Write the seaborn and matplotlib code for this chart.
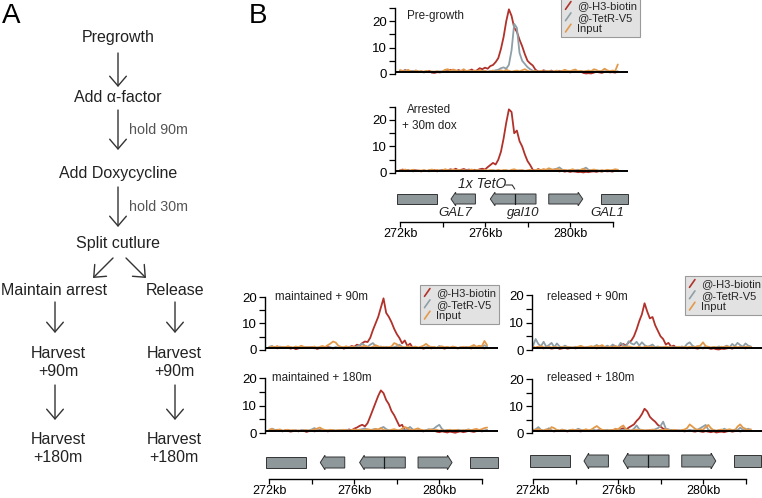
import numpy as np
import pandas as pd
import seaborn as sns
import matplotlib.pyplot as plt
from matplotlib.lines import Line2D
from matplotlib.patches import Polygon
from matplotlib.legend_handler import HandlerBase

# ---- data ----
kb_start = 272.0   # first sample position (kb)
kb_step = 0.125    # sample spacing (kb)
series_names = ["@-H3-biotin", "@-TetR-V5", "Input"]

pg_h3 = [1.2, 1.0, 1.5, 0.8, 1.1, 0.9, 1.3, 0.7,
         1.0, 0.6, 0.9, 1.2, 0.5, 0.4, 0.7, 0.6,
         0.8, 1.4, 1.0, 1.6, 1.2, 0.9, 1.5, 1.1,
         1.3, 0.9, 1.2, 1.7, 1.0, 1.4, 2.2, 1.8,
         2.4, 2.0, 3.0, 3.4, 4.5, 6.0, 9.5, 14.0,
         20.0, 24.5, 22.0, 17.5, 16.0, 13.0, 10.5, 7.5,
         5.0, 4.0, 3.2, 1.6, 1.0, 0.8, 1.4, 1.1,
         0.9, 1.3, 0.7, 1.0, 1.2, 0.8, 0.9, 1.1,
         0.6, 0.8, 1.0, 0.7, 0.9, 0.4, 0.2, 0.3,
         0.2, 0.5, 0.9, 0.6, 0.4, 0.8, 1.0, 0.6,
         0.7, 0.5, 0.9]
pg_tetr = [0.9, 1.1, 1.4, 1.0, 0.8, 1.2, 0.9, 1.0,
           0.7, 0.9, 1.0, 0.8, 0.6, 0.9, 0.8, 1.0,
           0.9, 1.1, 0.8, 1.0, 1.2, 0.9, 1.0, 1.1,
           0.8, 1.0, 0.9, 1.1, 0.8, 1.0, 0.9, 1.2,
           1.0, 0.9, 1.1, 1.0, 1.4, 1.6, 2.2, 2.5,
           2.0, 3.5, 9.0, 19.0, 17.5, 8.0, 5.0, 3.8,
           2.6, 1.8, 1.2, 1.0, 0.9, 1.0, 0.8, 1.1,
           0.9, 1.0, 0.8, 1.1, 0.9, 1.0, 0.8, 0.9,
           1.0, 0.9, 1.1, 0.8, 1.0, 0.9, 0.8, 1.0,
           0.9, 1.0, 0.8, 1.1, 0.9, 1.0, 0.8, 0.9,
           1.0, 0.9, 1.0]
pg_input = [1.5, 1.2, 0.9, 1.6, 1.0, 0.7, 1.3, 0.9,
            1.1, 0.8, 1.2, 0.9, 1.0, 0.8, 1.1, 0.7,
            1.0, 1.6, 1.8, 1.2, 1.7, 1.4, 0.9, 1.2,
            1.8, 1.0, 1.4, 0.8, 1.3, 1.0, 1.5, 0.9,
            1.2, 0.8, 1.0, 1.3, 0.9, 1.1, 1.4, 1.0,
            1.6, 1.2, 0.9, 1.1, 1.3, 1.0, 1.4, 1.8,
            1.2, 0.9, 1.0, 1.1, 0.8, 1.2, 0.9, 1.0,
            1.1, 0.8, 1.0, 1.3, 0.9, 1.1, 1.6, 1.2,
            1.0, 1.4, 1.7, 1.0, 1.2, 0.9, 1.1, 1.3,
            1.0, 1.8, 1.5, 0.9, 1.2, 2.0, 1.4, 1.0,
            1.3, 1.1, 3.6]

ar_h3 = [1.0, 1.3, 0.9, 1.1, 0.7, 1.2, 1.0, 0.8,
         0.6, 0.9, 0.7, 1.0, 0.8, 1.1, 0.6, 0.9,
         1.2, 0.8, 1.0, 1.4, 1.1, 1.6, 1.0, 1.2,
         1.5, 1.1, 1.3, 0.9, 1.2, 1.0, 1.4, 1.6,
         1.3, 2.2, 3.0, 3.8, 3.2, 5.0, 8.0, 13.0,
         19.0, 24.0, 23.0, 15.0, 16.0, 12.0, 10.0, 7.0,
         4.5, 3.0, 1.2, 0.8, 1.5, 1.0, 0.9, 1.2,
         0.8, 1.0, 0.7, 0.9, 0.6, 0.8, 0.5, 0.7,
         0.4, 0.6, 0.5, 0.3, 0.4, 0.2, 0.4, 0.3,
         0.5, 0.6, 0.4, 0.7, 0.5, 0.8, 0.6, 0.7,
         0.5, 0.9, 1.0]
ar_tetr = [0.8, 0.9, 0.7, 1.0, 0.8, 0.6, 0.9, 0.8,
           0.7, 0.9, 0.8, 0.6, 0.9, 0.7, 0.8, 1.0,
           0.9, 0.7, 0.8, 1.0, 0.9, 0.8, 1.1, 0.9,
           0.8, 1.0, 0.9, 0.7, 0.8, 0.9, 1.0, 0.8,
           0.9, 0.7, 0.8, 1.0, 0.9, 0.8, 0.7, 0.9,
           1.0, 0.8, 0.9, 0.7, 0.8, 1.0, 0.9, 0.8,
           0.7, 0.9, 0.8, 1.0, 0.9, 0.8, 1.1, 0.9,
           1.2, 1.0, 1.4, 1.6, 2.1, 1.3, 1.0, 0.9,
           1.1, 0.8, 1.0, 1.2, 0.9, 1.5, 2.0, 1.2,
           0.9, 0.8, 1.0, 0.9, 0.7, 0.8, 1.0, 0.9,
           0.8, 0.9, 1.0]
ar_input = [1.1, 0.9, 1.3, 0.8, 1.0, 1.2, 0.7, 1.0,
            0.9, 1.1, 0.8, 1.0, 1.3, 0.9, 1.2, 0.8,
            1.0, 1.4, 1.1, 0.9, 1.3, 1.0, 1.2, 0.9,
            1.1, 0.8, 1.0, 1.3, 0.9, 1.1, 1.0, 0.8,
            1.2, 0.9, 1.1, 1.0, 0.8, 1.2, 0.9, 1.1,
            1.0, 0.8, 1.2, 1.4, 1.0, 0.9, 1.1, 0.8,
            1.0, 1.2, 0.9, 1.1, 1.3, 1.0, 1.5, 1.2,
            1.8, 1.4, 1.1, 1.6, 1.3, 1.0, 1.2, 0.9,
            1.1, 1.4, 1.0, 0.8, 1.2, 1.6, 1.0, 0.9,
            1.1, 1.3, 1.0, 0.8, 1.1, 0.9, 1.2, 1.0,
            1.1, 1.4, 1.2]

m90_h3 = [1.0, 0.8, 1.2, 0.6, 0.9, 1.1, 0.7, 1.0,
          0.5, 0.8, 0.3, 0.6, 0.9, 0.7, 1.0, 0.8,
          1.1, 0.9, 0.4, 0.7, 1.0, 0.8, 1.2, 0.9,
          0.6, 0.9, 0.7, 1.1, 0.5, 0.8, 1.0, 1.5,
          1.2, 2.0, 1.6, 2.6, 3.2, 3.0, 4.6, 7.5,
          10.0, 12.5, 16.0, 19.5, 14.0, 12.5, 10.5, 8.0,
          6.0, 4.5, 2.5, 3.6, 1.5, 2.4, 0.8, 1.2,
          0.7, 0.9, 0.5, 0.8, 1.0, 0.6, 0.9, 0.7,
          1.1, 0.8, 0.5, 0.9, 0.7, 1.0, 0.8, 0.6,
          0.9, 0.7, 1.0, 0.8, 0.6, 0.9, 0.7, 1.0,
          0.8, 0.6, 0.9]
m90_tetr = [1.2, 1.5, 1.0, 0.8, 1.3, 0.9, 1.1, 0.7,
            1.0, 0.8, 1.2, 0.9, 0.7, 1.0, 0.8, 1.1,
            0.9, 0.6, 1.0, 0.8, 1.1, 0.7, 0.9, 1.0,
            0.8, 1.1, 0.9, 0.7, 1.0, 0.8, 1.2, 0.9,
            1.0, 1.4, 1.8, 2.4, 1.6, 1.2, 2.0, 2.6,
            1.5, 1.0, 1.3, 0.9, 1.2, 1.0, 0.8, 1.1,
            1.4, 2.0, 1.2, 0.9, 1.1, 0.8, 1.0, 0.9,
            0.7, 1.0, 0.8, 1.1, 0.9, 1.2, 1.0, 0.8,
            1.5, 1.0, 0.9, 1.1, 0.8, 1.0, 0.9, 0.7,
            1.0, 0.8, 1.1, 0.9, 1.3, 1.0, 0.8, 1.2,
            1.0, 1.8, 1.2]
m90_input = [0.9, 1.3, 1.0, 1.5, 0.8, 1.2, 1.0, 1.4,
             1.1, 0.9, 1.3, 1.0, 1.6, 1.2, 0.9, 1.1,
             1.0, 1.3, 0.8, 1.2, 1.5, 1.1, 1.8, 2.4,
             3.2, 2.8, 1.6, 1.2, 1.0, 1.4, 0.9, 1.2,
             1.1, 0.8, 1.0, 1.3, 1.6, 1.1, 0.9, 1.2,
             1.8, 1.4, 1.0, 1.2, 0.9, 1.1, 1.3, 2.6,
             2.2, 1.0, 1.2, 0.9, 1.4, 1.1, 1.0, 1.3,
             0.9, 1.2, 1.6, 2.3, 1.5, 1.0, 1.2, 0.8,
             1.1, 1.4, 1.0, 1.2, 0.9, 1.3, 1.1, 0.8,
             1.0, 1.2, 0.9, 1.1, 1.3, 1.9, 1.2, 1.6,
             1.4, 3.4, 1.8]

m180_h3 = [0.8, 1.0, 0.7, 1.2, 0.9, 0.6, 1.0, 0.8,
           0.5, 0.7, 0.9, 0.6, 1.0, 0.8, 0.4, 0.7,
           0.9, 0.6, 0.8, 1.1, 0.7, 0.9, 0.6, 0.8,
           1.0, 0.7, 0.9, 0.8, 1.1, 0.9, 1.3, 1.0,
           1.6, 2.0, 2.6, 3.0, 2.4, 3.6, 6.0, 8.5,
           11.0, 13.5, 15.5, 14.5, 12.0, 10.5, 8.0, 6.5,
           4.5, 2.5, 3.0, 1.0, 1.6, 0.8, 1.2, 0.7,
           1.0, 0.8, 0.6, 0.9, 1.1, 0.7, 0.9, 0.5,
           0.3, 0.6, 0.4, 0.2, 0.5, 0.3, 0.1, 0.4,
           0.6, 0.3, 0.5, 0.8, 0.6, 0.4, 0.7, 0.9,
           0.6, 0.8, 1.0]
m180_tetr = [1.0, 1.6, 1.2, 0.8, 1.0, 0.9, 0.7, 1.1,
             0.9, 0.8, 1.0, 0.7, 0.9, 1.1, 0.8, 1.0,
             1.3, 1.8, 1.2, 0.9, 1.1, 0.8, 1.0, 0.9,
             0.7, 1.0, 0.8, 1.1, 0.9, 1.2, 1.0, 0.8,
             1.1, 0.9, 1.2, 1.4, 1.7, 1.1, 1.0, 1.3,
             1.5, 1.0, 1.8, 2.2, 1.4, 1.0, 0.9, 1.1,
             0.8, 1.0, 1.2, 0.9, 1.6, 2.2, 1.3, 1.0,
             0.9, 1.1, 0.8, 1.0, 1.4, 1.2, 1.6, 2.4,
             3.0, 1.5, 0.9, 1.1, 0.8, 1.0, 0.9, 1.2,
             1.0, 0.8, 1.1, 1.3, 1.0, 0.9, 1.1, 0.8,
             1.0, 0.9, 1.1]
m180_input = [1.2, 1.5, 0.9, 1.1, 1.3, 0.8, 1.0, 1.2,
              0.9, 1.1, 0.8, 1.0, 0.7, 0.9, 1.1, 0.8,
              1.0, 1.3, 1.6, 2.0, 1.4, 1.1, 0.9, 1.2,
              1.0, 0.8, 1.1, 0.9, 1.2, 1.0, 0.8, 1.1,
              1.3, 1.0, 1.2, 0.9, 1.1, 1.4, 1.2, 1.0,
              1.5, 1.3, 1.8, 1.1, 1.0, 0.9, 1.2, 1.4,
              1.1, 0.9, 1.6, 2.2, 1.8, 1.2, 1.0, 1.4,
              1.7, 1.2, 1.0, 0.9, 1.1, 1.3, 1.0, 1.2,
              0.9, 1.1, 0.8, 1.0, 1.2, 0.9, 1.1, 1.0,
              0.8, 1.1, 0.9, 1.2, 1.0, 1.3, 1.5, 1.1,
              1.4, 1.8, 2.0]

r90_h3 = [1.0, 0.7, 1.2, 0.9, 0.6, 1.1, 0.8, 0.5,
          0.7, 0.9, 0.4, 0.6, 0.8, 0.5, 0.7, 0.9,
          0.6, 0.8, 1.2, 0.7, 0.9, 1.1, 0.8, 1.0,
          0.6, 0.9, 1.1, 0.8, 1.3, 1.0, 1.5, 1.2,
          1.0, 1.8, 2.2, 1.6, 2.8, 3.4, 5.0, 7.5,
          10.5, 13.0, 17.0, 14.0, 11.5, 12.0, 9.0, 7.0,
          5.0, 4.0, 2.0, 2.6, 1.2, 1.6, 0.8, 1.0,
          0.7, 0.9, 0.6, 0.8, 1.0, 0.7, 0.5, 0.8,
          0.6, 0.9, 0.7, 0.4, 0.6, 0.3, 0.2, 0.5,
          0.4, 0.6, 0.8, 0.5, 0.9, 0.7, 1.0, 0.8,
          0.6, 0.9, 1.1]
r90_tetr = [1.5, 4.0, 2.2, 1.4, 3.0, 1.2, 1.8, 2.6,
            1.0, 2.4, 1.3, 0.9, 1.6, 1.1, 1.0, 0.8,
            1.2, 0.9, 1.4, 1.0, 0.8, 1.1, 0.9, 1.3,
            1.8, 1.2, 0.9, 1.1, 1.6, 1.0, 2.0, 1.4,
            1.1, 2.6, 1.8, 1.2, 3.2, 2.4, 2.0, 3.0,
            1.6, 2.8, 1.8, 1.2, 1.5, 2.0, 1.0, 1.3,
            0.9, 1.1, 0.8, 1.0, 1.2, 0.9, 1.1, 0.8,
            1.3, 1.0, 2.2, 2.8, 1.6, 1.1, 1.4, 1.0,
            0.9, 1.2, 1.0, 0.8, 1.1, 0.9, 1.3, 1.0,
            1.2, 1.6, 1.0, 2.2, 1.4, 2.6, 1.8, 1.2,
            2.4, 1.6, 1.3]
r90_input = [1.2, 0.9, 1.1, 1.4, 1.0, 0.8, 1.2, 0.9,
             1.1, 1.0, 0.8, 1.2, 0.9, 1.1, 1.0, 0.8,
             1.0, 1.2, 1.5, 1.1, 0.9, 1.2, 1.4, 1.0,
             1.6, 1.3, 1.8, 1.1, 0.9, 1.2, 1.0, 1.4,
             1.1, 0.9, 1.2, 1.0, 1.3, 1.1, 0.9, 1.0,
             1.2, 0.9, 1.1, 1.3, 1.0, 1.2, 0.8, 1.0,
             1.1, 0.9, 1.3, 1.0, 1.1, 0.8, 1.0, 1.2,
             0.9, 1.1, 1.0, 1.2, 1.0, 1.1, 1.3, 1.6,
             2.8, 1.4, 1.2, 0.9, 1.1, 1.0, 0.8, 1.2,
             1.0, 1.3, 1.1, 0.9, 1.2, 1.0, 1.1, 0.9,
             1.2, 1.0, 1.1]

r180_h3 = [0.9, 1.1, 0.8, 1.0, 0.7, 0.9, 1.2, 0.8,
           0.6, 0.9, 0.7, 1.0, 0.8, 0.6, 0.9, 0.7,
           1.0, 0.8, 0.6, 0.9, 1.1, 0.8, 1.0, 0.7,
           0.9, 1.2, 0.8, 1.0, 0.7, 0.9, 1.1, 1.3,
           1.0, 1.4, 1.8, 1.2, 2.0, 2.6, 3.2, 4.5,
           5.5, 7.0, 9.0, 8.0, 6.0, 5.0, 4.2, 3.0,
           2.4, 1.6, 1.2, 0.9, 1.1, 0.8, 1.0, 0.7,
           0.9, 0.6, 0.8, 1.0, 0.7, 0.5, 0.8, 0.6,
           0.4, 0.7, 0.5, 0.3, 0.6, 0.2, 0.4, 0.5,
           0.3, 0.6, 0.8, 0.5, 0.7, 0.9, 0.6, 0.8,
           1.0, 0.7, 0.9]
r180_tetr = [1.0, 1.4, 2.2, 1.2, 0.9, 1.1, 1.8, 1.0,
             0.8, 1.1, 0.9, 1.3, 1.0, 0.8, 1.1, 0.9,
             1.0, 1.6, 1.2, 0.9, 1.1, 0.8, 1.0, 1.2,
             0.9, 1.1, 0.8, 1.0, 1.2, 0.9, 1.1, 1.0,
             1.3, 1.0, 1.2, 1.4, 1.1, 0.9, 1.6, 2.8,
             1.4, 1.1, 1.0, 0.9, 1.2, 1.0, 1.4, 1.8,
             2.6, 4.2, 1.6, 1.4, 1.0, 1.2, 0.9, 1.1,
             0.8, 1.0, 0.9, 1.2, 1.0, 1.1, 1.3, 1.8,
             2.4, 3.0, 1.2, 0.9, 1.1, 0.8, 1.0, 0.9,
             1.6, 1.1, 1.0, 0.9, 1.3, 1.0, 2.0, 1.2,
             1.0, 1.6, 1.1]
r180_input = [1.3, 1.0, 1.6, 1.1, 0.9, 1.4, 1.0, 2.2,
              1.8, 1.1, 0.9, 1.2, 1.0, 0.8, 1.1, 1.3,
              1.0, 1.2, 0.9, 1.1, 1.4, 1.0, 1.3, 2.0,
              2.6, 1.8, 1.2, 1.0, 0.9, 1.1, 1.0, 1.6,
              1.4, 2.2, 2.8, 1.4, 1.0, 0.9, 1.1, 1.3,
              1.0, 1.2, 0.9, 1.1, 1.0, 1.3, 1.1, 0.9,
              1.2, 1.0, 1.4, 1.1, 0.9, 1.2, 1.0, 0.8,
              1.1, 1.3, 1.8, 3.2, 2.4, 1.6, 1.1, 1.4,
              1.2, 2.2, 3.0, 1.8, 1.0, 0.9, 1.1, 1.3,
              1.0, 1.2, 1.4, 1.1, 0.9, 2.4, 3.2, 2.0,
              1.6, 1.0, 1.4]

# gene annotation (kb)
gene_start = [271.85, 274.4, 276.25, 279.0, 281.45]
gene_end = [273.75, 275.55, 278.4, 280.6, 282.75]
gene_strand = [0, -1, -1, 1, 0]
teto_kb = 277.4
gene_labels = ["GAL7", "gal10", "GAL1"]
gene_label_kb = [274.6, 277.8, 281.74]
kb_ticks = [272, 274, 276, 278, 280, 282]
kb_ticklabels = ["272kb", "", "276kb", "", "280kb", ""]

# ---- style ----
sns.set_theme(style="ticks")
plt.rcParams['font.family'] = ['Liberation Sans', 'DejaVu Sans']

colors = {"@-H3-biotin": "#b0322a", "@-TetR-V5": "#8e9fa7", "Input": "#e3994a"}
gene_color = "#8e989b"
txt = "#222222"

W, H = 762, 498
fig = plt.figure(figsize=(W / 100, H / 100), dpi=100)


def px_axes(left, top, right, bottom):
    return fig.add_axes([left / W, 1 - bottom / H, (right - left) / W, (bottom - top) / H])


def kb_lim(left, right, p272):
    return 272 + (left - p272) / 21.25, 272 + (right - p272) / 21.25


def to_df(h3, tetr, inp):
    frames = []
    for name, vals in zip(series_names, [h3, tetr, inp]):
        frames.append(pd.DataFrame({"kb": kb_start + kb_step * np.arange(len(vals)),
                                    "signal": vals, "antibody": name}))
    return pd.concat(frames, ignore_index=True)


class SlashHandler(HandlerBase):
    def create_artists(self, legend, orig_handle, xdescent, ydescent, width, height, fontsize, trans):
        ln = Line2D([0.15 * width - xdescent, 0.85 * width - xdescent],
                    [0.0 * height - ydescent, 1.0 * height - ydescent],
                    color=orig_handle.get_color(), lw=1.2, transform=trans)
        return [ln]


def add_legend(ax, x, y):
    handles = [Line2D([], [], color=colors[n]) for n in series_names]
    leg = ax.legend(handles, series_names, loc="upper left", bbox_to_anchor=(x / W, 1 - y / H),
                    bbox_transform=fig.transFigure, handler_map={Line2D: SlashHandler()},
                    fontsize=8, frameon=True, fancybox=False, framealpha=1, borderpad=0.3,
                    handlelength=0.7, handletextpad=0.45, labelspacing=0.12, borderaxespad=0)
    leg.get_frame().set_facecolor("#e2e2e2")
    leg.get_frame().set_edgecolor("#9a9a9a")
    leg.get_frame().set_linewidth(0.8)
    leg.set_zorder(20)


def trace_panel(rect, xlim, ymax, data, legend_at=None):
    ax = px_axes(*rect)
    ax.set_facecolor("none")
    df = to_df(*data)
    sns.lineplot(data=df, x="kb", y="signal", hue="antibody", hue_order=series_names,
                 palette=colors, estimator=None, lw=1.3, legend=False, ax=ax)
    ax.axhline(0.7, color="black", lw=1.4, zorder=5)
    ax.set_xlim(*xlim)
    ax.set_ylim(-0.5, ymax)
    sns.despine(ax=ax, bottom=True)
    ax.spines["left"].set_bounds(0, ymax)
    ax.spines["left"].set_linewidth(1.0)
    ax.spines["left"].set_color("black")
    ax.set_xticks([])
    ax.set_yticks([0, 10, 20])
    ax.set_yticks([v for v in [5, 15, 25] if v <= ymax], minor=True)
    ax.tick_params(axis="y", which="both", length=4, width=0.9, direction="out",
                   labelsize=9.5, pad=2, colors="black")
    ax.set_xlabel("")
    ax.set_ylabel("")
    if legend_at is not None:
        add_legend(ax, *legend_at)
    return ax


def gene_track(rect, xlim, y_top, y_bot, labels=False):
    ax = px_axes(*rect)
    ax.set_facecolor("none")
    ax.set_xlim(*xlim)
    ax.set_ylim(rect[3], rect[1])
    yc = (y_top + y_bot) / 2
    flare, tip = 1.8, 0.22
    for s, e, strand in zip(gene_start, gene_end, gene_strand):
        if strand == 0:
            pts = [(s, y_top), (e, y_top), (e, y_bot), (s, y_bot)]
        elif strand < 0:
            pts = [(s, yc), (s + tip, y_top - flare), (s + tip, y_top), (e, y_top),
                   (e, y_bot), (s + tip, y_bot), (s + tip, y_bot + flare)]
        else:
            pts = [(e, yc), (e - tip, y_bot + flare), (e - tip, y_bot), (s, y_bot),
                   (s, y_top), (e - tip, y_top), (e - tip, y_top - flare)]
        ax.add_patch(Polygon(pts, closed=True, fc=gene_color, ec="#333333", lw=0.7, clip_on=False))
    ax.plot([teto_kb, teto_kb], [y_top, y_bot], color="#1a1a1a", lw=0.9)
    if labels:
        for lab, xk in zip(gene_labels, gene_label_kb):
            ax.text(xk, y_bot + 9, lab, ha="center", va="center", style="italic",
                    fontsize=9.5, color=txt)
        ax.text(275.86, y_top - 10, "1x TetO", ha="center", va="center", style="italic",
                fontsize=10, color=txt)
        ax.plot([276.97, 277.28, 277.4], [y_top - 9, y_top - 9, y_top - 5], color="#333333", lw=0.8)
    sns.despine(ax=ax, left=True)
    ax.spines["bottom"].set_bounds(272, 282)
    ax.spines["bottom"].set_color("black")
    ax.spines["bottom"].set_linewidth(1.0)
    ax.set_yticks([])
    ax.set_xticks(kb_ticks)
    ax.set_xticklabels(kb_ticklabels)
    ax.tick_params(axis="x", length=3.5, width=0.9, direction="out", labelsize=9, pad=0.5,
                   colors="black")
    return ax


# ---- panel B: traces ----
top_x = kb_lim(395, 628, 400)
bl_x = kb_lim(265, 498, 269.3)
br_x = kb_lim(532, 762, 533)

trace_panel((395, 8.0, 628, 75.3), top_x, 25, (pg_h3, pg_tetr, pg_input), legend_at=(561, -2))
trace_panel((395, 106.7, 628, 174.3), top_x, 25, (ar_h3, ar_tetr, ar_input))
gene_track((395, 178, 628, 222), top_x, 194, 204, labels=True)

trace_panel((265, 297, 498, 351.3), bl_x, 20, (m90_h3, m90_tetr, m90_input), legend_at=(420, 285))
trace_panel((265, 378, 498, 434.4), bl_x, 20, (m180_h3, m180_tetr, m180_input))
gene_track((265, 448, 498, 479), bl_x, 457, 468)

trace_panel((532, 295, 762, 351.4), br_x, 20, (r90_h3, r90_tetr, r90_input), legend_at=(685, 276))
trace_panel((532, 379, 762, 434.4), br_x, 20, (r180_h3, r180_tetr, r180_input))
gene_track((532, 446, 762, 479), br_x, 455, 467)

# ---- overlay: panel letters, labels, flow chart (A) ----
ov = fig.add_axes([0, 0, 1, 1])
ov.set_xlim(0, W)
ov.set_ylim(H, 0)
ov.axis("off")
ov.set_zorder(10)
ov.patch.set_alpha(0)

ov.text(11, 16, "A", fontsize=20, ha="center", va="center", color="black")
ov.text(258, 16, "B", fontsize=20, ha="center", va="center", color="black")

lab_fs = 8.4
ov.text(407, 16, "Pre-growth", fontsize=lab_fs, ha="left", va="center", color=txt)
ov.text(429, 118, "Arrested\n+ 30m dox", fontsize=lab_fs, ha="center", va="center",
        color=txt, linespacing=1.35)
ov.text(275, 297, "maintained + 90m", fontsize=lab_fs, ha="left", va="center", color=txt)
ov.text(272, 378, "maintained + 180m", fontsize=lab_fs, ha="left", va="center", color=txt)
ov.text(547, 297, "released + 90m", fontsize=lab_fs, ha="left", va="center", color=txt)
ov.text(547, 378, "released + 180m", fontsize=lab_fs, ha="left", va="center", color=txt)

flow_fs = 11.5


def step(x, y, s):
    ov.text(x, y, s, fontsize=flow_fs, ha="center", va="center", color=txt, linespacing=1.25)


def arrow(x0, y0, x1, y1):
    ov.annotate("", xy=(x1, y1), xytext=(x0, y0),
                arrowprops=dict(arrowstyle="->,head_length=0.35,head_width=0.3",
                                color="#333333", lw=1.0, mutation_scale=20,
                                shrinkA=0, shrinkB=0))


step(118, 37, "Pregrowth")
arrow(118, 53, 118, 87)
step(118, 97, "Add α-factor")
arrow(118, 110, 118, 150)
ov.text(129, 130, "hold 90m", fontsize=10.3, ha="left", va="center", color="#555555")
step(118, 173, "Add Doxycycline")
arrow(118, 187, 118, 227)
ov.text(129, 207, "hold 30m", fontsize=10.3, ha="left", va="center", color="#555555")
step(118, 243, "Split cutlure")
arrow(113, 258, 93, 278)
arrow(126, 258, 146, 278)
step(54, 290, "Maintain arrest")
step(175, 290, "Release")
arrow(55, 302, 55, 333)
arrow(175, 302, 175, 333)
step(58, 362, "Harvest\n+90m")
step(174, 362, "Harvest\n+90m")
arrow(55, 385, 55, 420)
arrow(175, 385, 175, 420)
step(58, 448, "Harvest\n+180m")
step(174, 448, "Harvest\n+180m")

fig.savefig("out.png", dpi=100, facecolor="white")
